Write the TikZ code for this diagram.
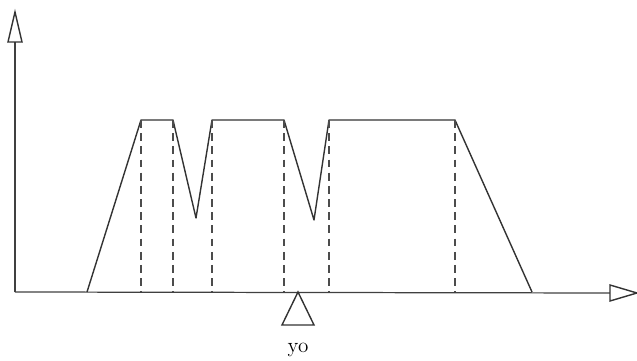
\documentclass[tikz,border=0pt]{standalone}
\usetikzlibrary{positioning}

\begin{document}
\begin{tikzpicture}[
  x=0.02cm, y=-0.02cm,
  axis/.style={draw=black!75, line width=0.7pt},
  curve/.style={draw=black!80, line width=0.8pt, line join=round},
  guide/.style={draw=black!70, line width=0.6pt, dash pattern=on 4.5pt off 3pt},
  marker/.style={draw=black!80, line width=0.8pt, fill=white, line join=miter}
]
\useasboundingbox (0,0) rectangle (637,361);

% axes
\coordinate (origin) at (15,292);
\coordinate (ytip) at (15,12);
\coordinate (xtip) at (637,293);
\draw[axis] (origin) -- (15,42);
\draw[axis] (origin) -- (610,293);
\draw[marker] (ytip) -- (22,42) -- (8,42) -- cycle;
\draw[marker] (xtip) -- (610,285) -- (610,301) -- cycle;

% breakpoints of the curve
\coordinate (p0) at (87,292);
\coordinate (p1) at (141,120);
\coordinate (p2) at (173,120);
\coordinate (p3) at (196,218);
\coordinate (p4) at (212,120);
\coordinate (p5) at (284,120);
\coordinate (p6) at (314,220);
\coordinate (p7) at (329,120);
\coordinate (p8) at (455,120);
\coordinate (p9) at (532,292);

\draw[curve] (p0) -- (p1) -- (p2) -- (p3) -- (p4) -- (p5) -- (p6) -- (p7) -- (p8) -- (p9);

% dashed guides down to the axis
\foreach \p in {p1,p2,p4,p5,p7,p8}
  \draw[guide] (\p) -- (\p |- origin);

% position marker
\coordinate (yo) at (298,292);
\draw[marker] (yo) -- (314,325) -- (282,325) -- cycle;
\node[font=\large] (yolabel) at (298,350) {yo};

\end{tikzpicture}
\end{document}
